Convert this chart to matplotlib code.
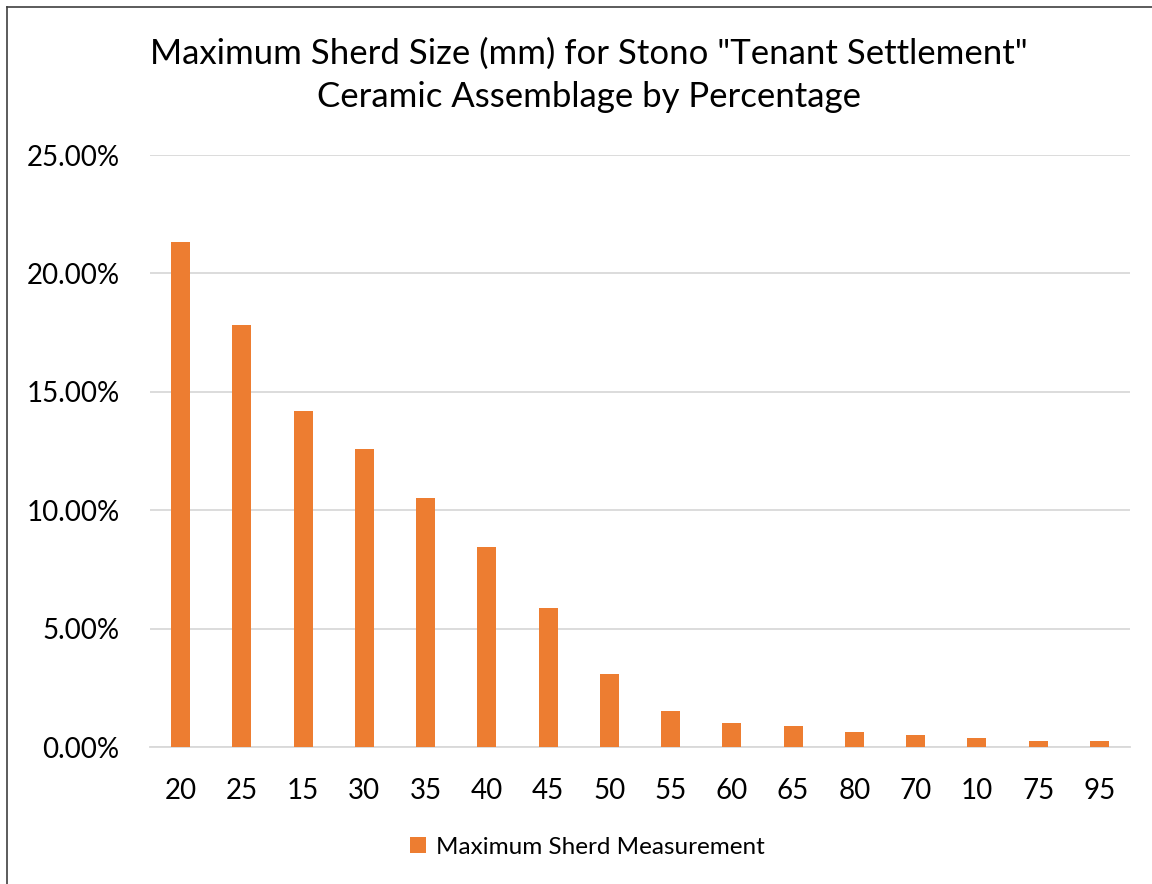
import matplotlib.pyplot as plt
from matplotlib.ticker import PercentFormatter
from matplotlib.lines import Line2D

plt.rcParams['font.family'] = ['Lato', 'DejaVu Sans']

sizes = ['20', '25', '15', '30', '35', '40', '45', '50', '55', '60', '65', '80', '70', '10', '75', '95']
share = [21.31, 17.82, 14.19, 12.58, 10.52, 8.45, 5.87, 3.08, 1.53, 1.01, 0.89, 0.62, 0.51, 0.38, 0.24, 0.24]

orange = '#ED7D31'

fig = plt.figure(figsize=(11.52, 8.84), dpi=100)
ax = fig.add_axes([150 / 1152, 1 - 747 / 884, 980 / 1152, 592 / 884])

ax.bar(range(len(sizes)), share, width=0.31, color=orange, label='Maximum Sherd Measurement', zorder=3)

ax.set_xlim(-0.5, len(sizes) - 0.5)
ax.set_ylim(0, 25)
ax.set_yticks([0, 5, 10, 15, 20, 25])
ax.yaxis.set_major_formatter(PercentFormatter(decimals=2))
ax.set_xticks(range(len(sizes)))
ax.set_xticklabels(sizes)
ax.tick_params(axis='both', length=0, labelsize=20, colors='black')
ax.tick_params(axis='y', pad=22)
ax.tick_params(axis='x', pad=22)
ax.grid(axis='y', color='#D9D9D9', linewidth=1.3, zorder=0)
for side in ['top', 'right', 'left']:
    ax.spines[side].set_visible(False)
ax.spines['bottom'].set_color('#D9D9D9')
ax.spines['bottom'].set_linewidth(1.3)

fig.text(0.511, 1 - 54 / 884, 'Maximum Sherd Size (mm) for Stono "Tenant Settlement"',
         ha='center', va='center', fontsize=25)
fig.text(0.511, 1 - 97 / 884, 'Ceramic Assemblage by Percentage',
         ha='center', va='center', fontsize=25)

fig.legend(loc='center', bbox_to_anchor=(0.51, 1 - 847 / 884), frameon=False, fontsize=17.5,
           handlelength=0.65, handleheight=0.65, handletextpad=0.4)

# outer chart frame
fig.add_artist(Line2D([7 / 1152, 7 / 1152], [0, 1 - 7 / 884], color='#404040', linewidth=1.2))
fig.add_artist(Line2D([7 / 1152, 1], [1 - 7 / 884, 1 - 7 / 884], color='#404040', linewidth=1.2))

fig.savefig('out.png', dpi=100, facecolor='white')
